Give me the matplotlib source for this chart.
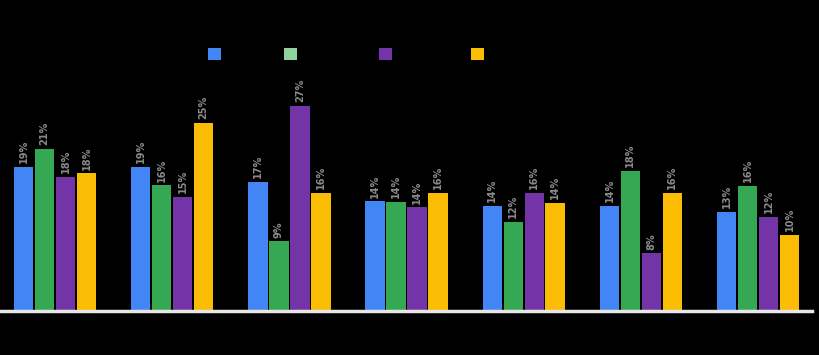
import matplotlib
matplotlib.use("Agg")
import matplotlib.pyplot as plt
import numpy as np
from matplotlib.patches import Patch

categories = ["Group 1", "Group 2", "Group 3", "Group 4", "Group 5", "Group 6", "Group 7"]
series_names = ["Total A", "Sector B1", "Category", "Series D"]
series_a = [19, 19, 17, 14.4, 13.8, 13.8, 13]
series_b = [21.3, 16.5, 9.1, 14.3, 11.7, 18.4, 16.4]
series_c = [17.6, 15, 27, 13.6, 15.5, 7.5, 12.3]
series_d = [18.1, 24.8, 15.5, 15.5, 14.2, 15.5, 10]
values = [series_a, series_b, series_c, series_d]
colors = ["#4285F4", "#34A853", "#7334A8", "#FBBC04"]
legend_colors = ["#4285F4", "#8FD19E", "#7334A8", "#FBBC04"]

fig = plt.figure(figsize=(8.2, 3.55), dpi=100, facecolor="black")
ax = fig.add_axes([5/820, 45/355, 807/820, 226.5/355], facecolor="black")

x = np.arange(len(categories))
step = 0.179
width = 0.166
for i, (vals, c) in enumerate(zip(values, colors)):
    pos = x + (i - 1.5) * step
    bars = ax.bar(pos, vals, width=width, color=c, zorder=2)
    for b, v in zip(bars, vals):
        ax.text(b.get_x() + b.get_width()/2, v + 0.5, f"{v:.0f}%", rotation=90,
                ha="center", va="bottom", color="#8a8a8a", fontsize=7, fontweight="bold")

ax.set_xlim(-0.427, 6.46)
ax.set_ylim(0, 30)
ax.set_xticks(x)
ax.set_xticklabels(categories, color="black")
ax.tick_params(length=0)
ax.set_yticks([])
for s in ["left", "right", "top", "bottom"]:
    ax.spines[s].set_visible(False)
fig.add_artist(plt.Line2D([0, 812/820], [44/355, 44/355], color="#e6e6e6", linewidth=2.5))

handles = [Patch(facecolor=c) for c in legend_colors]
leg = fig.legend(handles, series_names, loc="center", bbox_to_anchor=(375/820, 1 - 55/355),
                 ncol=4, frameon=False, handlelength=1.05, handleheight=1.05,
                 columnspacing=1.2, handletextpad=0.5, fontsize=9)
for t in leg.get_texts():
    t.set_color("black")

fig.savefig("out.png", dpi=100, facecolor="black")
